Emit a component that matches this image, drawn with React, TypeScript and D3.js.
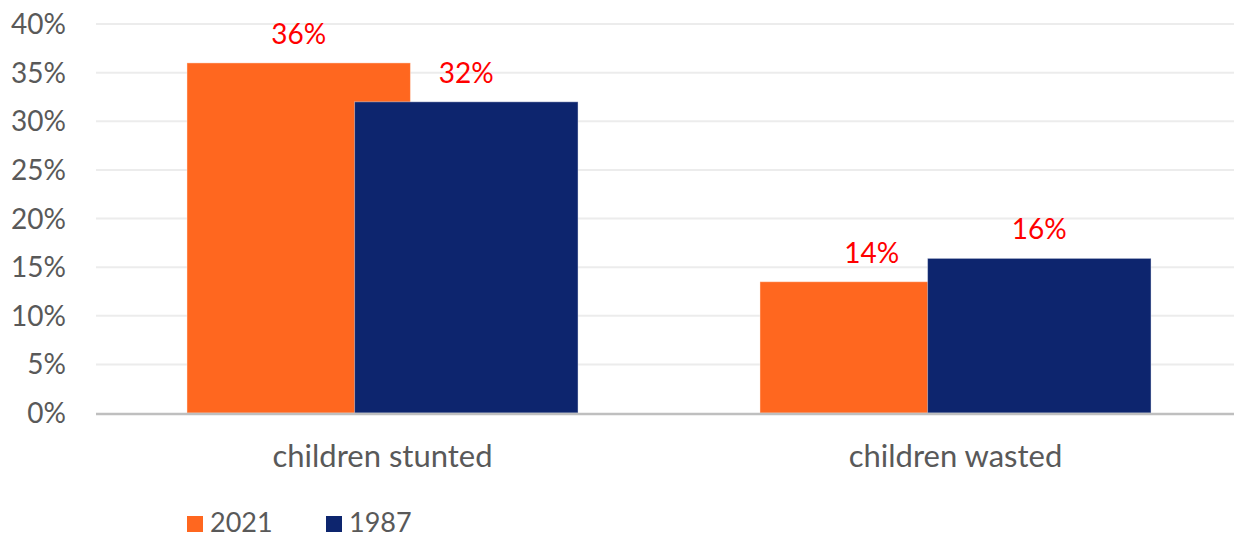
import React, { useEffect, useRef } from "react";
import * as d3 from "d3";

// categories and series
const categories = ["children stunted", "children wasted"];
const seriesNames = ["2021", "1987"];
const values2021 = [36.0, 13.5];
const values1987 = [32.0, 15.9];
const labels2021 = ["36%", "14%"];
const labels1987 = ["32%", "16%"];
const yTicks = [0, 5, 10, 15, 20, 25, 30, 35, 40];

const orange = "#ff671f";
const navy = "#0d256e";
const labelColor = "#595959";
const font = "Lato, 'Open Sans', sans-serif";

function App() {
    const ref = useRef<SVGSVGElement>(null);

    useEffect(() => {
        const width = 1234;
        const height = 539;
        const padding = { top: 24, left: 96, right: -8, bottom: 126 };

        const svg = d3.select(ref.current);
        svg.selectAll("*").remove();
        svg.attr("width", width).attr("height", height);

        const xScale = d3
            .scaleBand()
            .domain(categories)
            .range([padding.left, width - padding.right]);

        const yScale = d3
            .scaleLinear()
            .domain([0, 40])
            .range([height - padding.bottom, padding.top]);

        // bar geometry, excel style overlap
        const barWidth = xScale.bandwidth() * 0.39;
        const offset = barWidth * 0.75;

        // gridlines
        svg.selectAll(".grid")
            .data(yTicks.filter((t) => t > 0))
            .enter()
            .append("line")
            .attr("x1", padding.left)
            .attr("x2", width)
            .attr("y1", (d) => yScale(d))
            .attr("y2", (d) => yScale(d))
            .style("stroke", "#ececec")
            .style("stroke-width", 2);

        // y labels
        svg.selectAll(".ylab")
            .data(yTicks)
            .enter()
            .append("text")
            .attr("x", 66)
            .attr("y", (d) => yScale(d))
            .attr("dy", "0.36em")
            .attr("text-anchor", "end")
            .style("fill", labelColor)
            .style("font-family", font)
            .style("font-size", "28px")
            .text((d) => d + "%");

        const bars = [
            { name: seriesNames[0], values: values2021, labels: labels2021, color: orange, shift: -offset / 2 },
            { name: seriesNames[1], values: values1987, labels: labels1987, color: navy, shift: offset / 2 },
        ];

        bars.forEach((s) => {
            categories.forEach((c, i) => {
                const cx = (xScale(c) as number) + xScale.bandwidth() / 2 + s.shift;
                svg.append("rect")
                    .attr("x", cx - barWidth / 2)
                    .attr("y", yScale(s.values[i]))
                    .attr("width", barWidth)
                    .attr("height", yScale(0) - yScale(s.values[i]))
                    .style("fill", s.color)
                    .style("stroke", "rgba(255,255,255,0.4)")
                    .style("stroke-width", 1);
            });
        });

        bars.forEach((s) => {
            categories.forEach((c, i) => {
                const cx = (xScale(c) as number) + xScale.bandwidth() / 2 + s.shift;
                svg.append("text")
                    .attr("x", cx)
                    .attr("y", yScale(s.values[i]) - 19)
                    .attr("text-anchor", "middle")
                    .style("fill", "#ff0000")
                    .style("font-family", font)
                    .style("font-size", "28px")
                    .text(s.labels[i]);
            });
        });

        // axis line
        svg.append("line")
            .attr("x1", padding.left)
            .attr("x2", width)
            .attr("y1", yScale(0) + 1)
            .attr("y2", yScale(0) + 1)
            .style("stroke", "#bfbfbf")
            .style("stroke-width", 2.5);

        // category labels
        svg.selectAll(".xlab")
            .data(categories)
            .enter()
            .append("text")
            .attr("x", (d) => (xScale(d) as number) + xScale.bandwidth() / 2)
            .attr("y", yScale(0) + 54)
            .attr("text-anchor", "middle")
            .style("fill", labelColor)
            .style("font-family", font)
            .style("font-size", "31px")
            .text((d) => d);

        // legend
        const legend = [
            { name: seriesNames[0], color: orange, x: 187 },
            { name: seriesNames[1], color: navy, x: 326 },
        ];
        legend.forEach((l) => {
            svg.append("rect")
                .attr("x", l.x)
                .attr("y", 516)
                .attr("width", 16)
                .attr("height", 16)
                .style("fill", l.color);
            svg.append("text")
                .attr("x", l.x + 23)
                .attr("y", 532)
                .style("fill", labelColor)
                .style("font-family", font)
                .style("font-size", "27px")
                .text(l.name);
        });
    }, []);

    return (
        <svg
            ref={ref}
            style={{ position: "absolute", left: 0, top: 0, background: "#fff", overflow: "hidden" }}
        ></svg>
    );
}

export default App;
